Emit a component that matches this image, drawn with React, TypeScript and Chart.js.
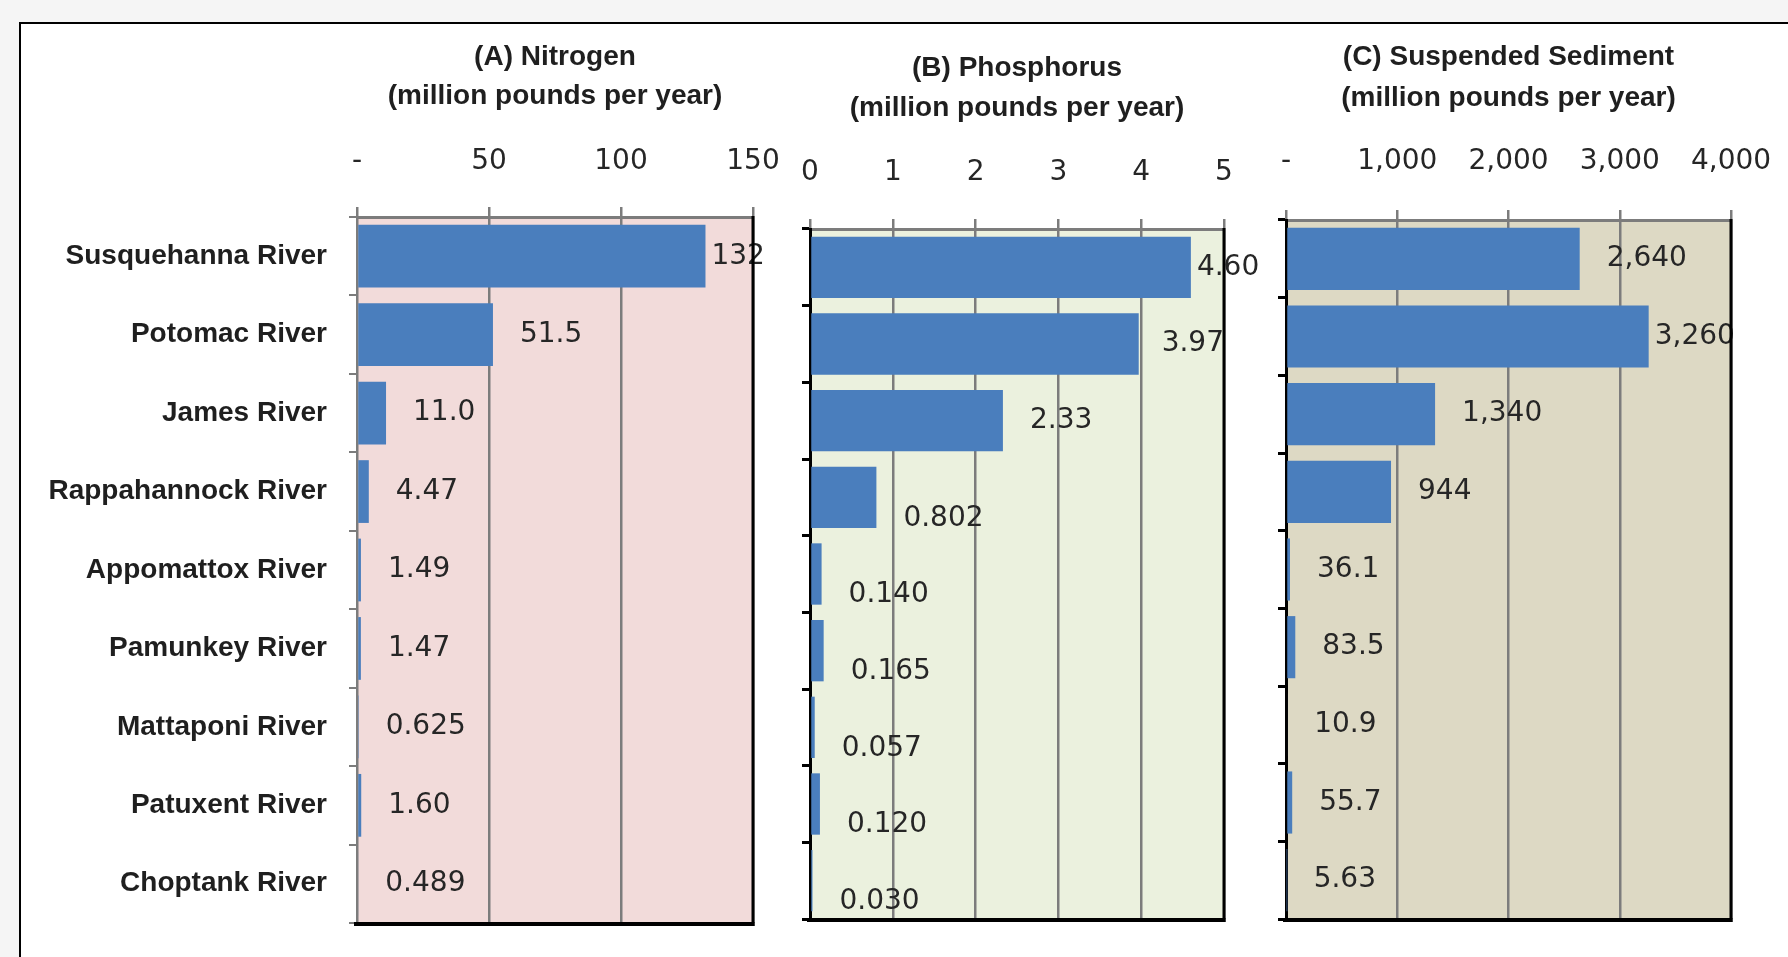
import React, { useEffect, useRef } from "react";
import { Chart, registerables } from "chart.js";

Chart.register(...registerables);

// Rivers, top to bottom
const rivers = [
  "Susquehanna River",
  "Potomac River",
  "James River",
  "Rappahannock River",
  "Appomattox River",
  "Pamunkey River",
  "Mattaponi River",
  "Patuxent River",
  "Choptank River",
];

// Loads, million pounds per year
const nitrogen = [132, 51.5, 11.0, 4.47, 1.49, 1.47, 0.625, 1.6, 0.489];
const phosphorus = [4.6, 3.97, 2.33, 0.802, 0.14, 0.165, 0.057, 0.12, 0.03];
const sediment = [2640, 3260, 1340, 944, 36.1, 83.5, 10.9, 55.7, 5.63];

// Axis ranges and tick steps
const nitrogenAxis = [0, 150, 50];
const phosphorusAxis = [0, 5, 1];
const sedimentAxis = [0, 4000, 1000];

const BAR = "#4a7ebd";
const GRID = "#7c7c7c";
const TEXT = "#1f1f1f";
const LABEL_FONT = "'DejaVu Sans', sans-serif";
const BOLD_FONT = "'Liberation Sans', Arial, sans-serif";
const TICK_SIZE = 28;
const TICK_LEN = 10;

const sig3 = new Intl.NumberFormat("en-US", {
  minimumSignificantDigits: 3,
  maximumSignificantDigits: 3,
});
const thousands = new Intl.NumberFormat("en-US");

type Panel = {
  key: string;
  values: number[];
  axis: number[];
  titles: string[];
  titleY: number[];
  tickLabelY: number;
  canvasLeft: number;
  canvasWidth: number;
  areaLeft: number;
  areaRight: number;
  areaTop: number;
  areaBottom: number;
  fill: string;
  leftAxisColor: string;
  showCategories: boolean;
  tickText: (v: number) => string;
  valueText: (v: number) => string;
  smallLabelDrop: number;
};

const dashZero = (v: number) => (v === 0 ? "-" : thousands.format(v));

const panels: Panel[] = [
  {
    key: "n",
    values: nitrogen,
    axis: nitrogenAxis,
    titles: ["(A) Nitrogen", "(million pounds per year)"],
    titleY: [57, 96],
    tickLabelY: 162,
    canvasLeft: 0,
    canvasWidth: 790,
    areaLeft: 357,
    areaRight: 753,
    areaTop: 217,
    areaBottom: 923,
    fill: "#f2dbda",
    leftAxisColor: GRID,
    showCategories: true,
    tickText: dashZero,
    valueText: (v) => sig3.format(v),
    smallLabelDrop: 0,
  },
  {
    key: "p",
    values: phosphorus,
    axis: phosphorusAxis,
    titles: ["(B) Phosphorus", "(million pounds per year)"],
    titleY: [68, 108],
    tickLabelY: 173,
    canvasLeft: 790,
    canvasWidth: 472,
    areaLeft: 810,
    areaRight: 1224,
    areaTop: 229,
    areaBottom: 919,
    fill: "#ebf1de",
    leftAxisColor: "#000000",
    showCategories: false,
    tickText: (v) => String(v),
    valueText: (v) => (v >= 1 ? v.toFixed(2) : v.toFixed(3)),
    smallLabelDrop: 21,
  },
  {
    key: "s",
    values: sediment,
    axis: sedimentAxis,
    titles: ["(C) Suspended Sediment", "(million pounds per year)"],
    titleY: [57, 98],
    tickLabelY: 162,
    canvasLeft: 1262,
    canvasWidth: 526,
    areaLeft: 1286,
    areaRight: 1731,
    areaTop: 220,
    areaBottom: 919,
    fill: "#ddd9c4",
    leftAxisColor: "#000000",
    showCategories: false,
    tickText: dashZero,
    valueText: (v) => sig3.format(v),
    smallLabelDrop: 0,
  },
];

const PAGE_H = 957;

// Plot background, value labels, black frame edges and the two-line heading
const decorPlugin = {
  id: "panelDecor",
  beforeDraw(chart: any, _args: any, opts: any) {
    const { ctx, chartArea: a } = chart;
    ctx.save();
    ctx.fillStyle = opts.fill;
    ctx.fillRect(a.left, a.top, a.right - a.left, a.bottom - a.top);
    ctx.restore();
  },
  afterDatasetsDraw(chart: any, _args: any, opts: any) {
    const { ctx, chartArea: a } = chart;
    const meta = chart.getDatasetMeta(0);
    const values: number[] = chart.data.datasets[0].data;
    ctx.save();
    ctx.font = `${TICK_SIZE}px ${LABEL_FONT}`;
    ctx.fillStyle = "#262626";
    ctx.textAlign = "left";
    ctx.textBaseline = "middle";
    meta.data.forEach((bar: any, i: number) => {
      const v = values[i];
      const text = opts.valueText(v);
      const w = ctx.measureText(text).width;
      const end = bar.x;
      const x = Math.max(end + 6, Math.min(end + 27, a.right - w));
      const y = bar.y + (v < 1 ? opts.smallLabelDrop : 0);
      ctx.fillText(text, x, y);
    });
    ctx.restore();
  },
  afterDraw(chart: any, _args: any, opts: any) {
    const { ctx, chartArea: a } = chart;
    ctx.save();
    ctx.strokeStyle = "#000000";
    ctx.lineWidth = 3;
    ctx.beginPath();
    ctx.moveTo(a.right, a.top - 1);
    ctx.lineTo(a.right, a.bottom + 3);
    ctx.stroke();
    ctx.lineWidth = 4;
    ctx.beginPath();
    ctx.moveTo(a.left - 3, a.bottom + 1);
    ctx.lineTo(a.right + 1.5, a.bottom + 1);
    ctx.stroke();

    ctx.fillStyle = TEXT;
    ctx.font = `bold 28px ${BOLD_FONT}`;
    ctx.textAlign = "center";
    ctx.textBaseline = "middle";
    const cx = (a.left + a.right) / 2;
    opts.titles.forEach((t: string, i: number) => ctx.fillText(t, cx, opts.titleY[i]));
    ctx.restore();
  },
};

function PanelChart({ p }: { p: Panel }) {
  const ref = useRef<HTMLCanvasElement | null>(null);

  useEffect(() => {
    if (!ref.current) return;
    const lineHeight = TICK_SIZE * 1.2;
    const tickPad = p.areaTop - TICK_LEN - lineHeight / 2 - p.tickLabelY;
    const yWidth = p.areaLeft - p.canvasLeft;

    const chart = new Chart(ref.current, {
      type: "bar",
      data: {
        labels: rivers,
        datasets: [
          {
            data: p.values,
            backgroundColor: BAR,
            borderWidth: 0,
            categoryPercentage: 0.8,
            barPercentage: 1,
          },
        ],
      },
      plugins: [decorPlugin],
      options: {
        indexAxis: "y",
        responsive: false,
        animation: false,
        events: [],
        layout: {
          padding: {
            left: 0,
            top: 0,
            right: p.canvasLeft + p.canvasWidth - p.areaRight,
            bottom: PAGE_H - p.areaBottom,
          },
        },
        plugins: {
          legend: { display: false },
          tooltip: { enabled: false },
          title: { display: false },
          panelDecor: {
            fill: p.fill,
            titles: p.titles,
            titleY: p.titleY,
            valueText: p.valueText,
            smallLabelDrop: p.smallLabelDrop,
          },
        } as any,
        scales: {
          x: {
            position: "top",
            min: p.axis[0],
            max: p.axis[1],
            ticks: {
              stepSize: p.axis[2],
              padding: tickPad,
              color: "#262626",
              font: { family: LABEL_FONT, size: TICK_SIZE },
              maxRotation: 0,
              callback: (v: any) => p.tickText(Number(v)),
            },
            grid: {
              color: GRID,
              lineWidth: 2.5,
              tickLength: TICK_LEN,
              tickColor: GRID,
            },
            border: { color: GRID, width: 3 },
            afterFit: (s: any) => {
              s.height = p.areaTop;
              s.paddingLeft = 0;
              s.paddingRight = 0;
            },
          },
          y: {
            ticks: {
              display: p.showCategories,
              padding: 22,
              color: TEXT,
              font: { family: BOLD_FONT, size: 28, weight: "bold" },
            },
            grid: {
              drawOnChartArea: false,
              tickLength: 8,
              color: p.leftAxisColor,
              tickColor: p.leftAxisColor,
              lineWidth: p.showCategories ? 2 : 3,
            },
            border: { color: p.leftAxisColor, width: p.showCategories ? 2 : 3 },
            afterFit: (s: any) => {
              s.width = yWidth;
              s.paddingTop = 0;
              s.paddingBottom = 0;
            },
          },
        },
      } as any,
    });
    return () => chart.destroy();
  }, [p]);

  return (
    <canvas
      ref={ref}
      width={p.canvasWidth}
      height={PAGE_H}
      style={{
        position: "absolute",
        left: p.canvasLeft,
        top: 0,
        width: p.canvasWidth,
        height: PAGE_H,
      }}
    />
  );
}

export default function App() {
  return (
    <div
      style={{
        position: "fixed",
        left: 0,
        top: 0,
        width: 1788,
        height: PAGE_H,
        background: "#f5f5f5",
        overflow: "hidden",
      }}
    >
      <div
        style={{
          position: "absolute",
          left: 19,
          top: 22,
          width: 1820,
          height: 1000,
          background: "#ffffff",
          border: "2px solid #000000",
        }}
      />
      {panels.map((p) => (
        <PanelChart key={p.key} p={p} />
      ))}
    </div>
  );
}
